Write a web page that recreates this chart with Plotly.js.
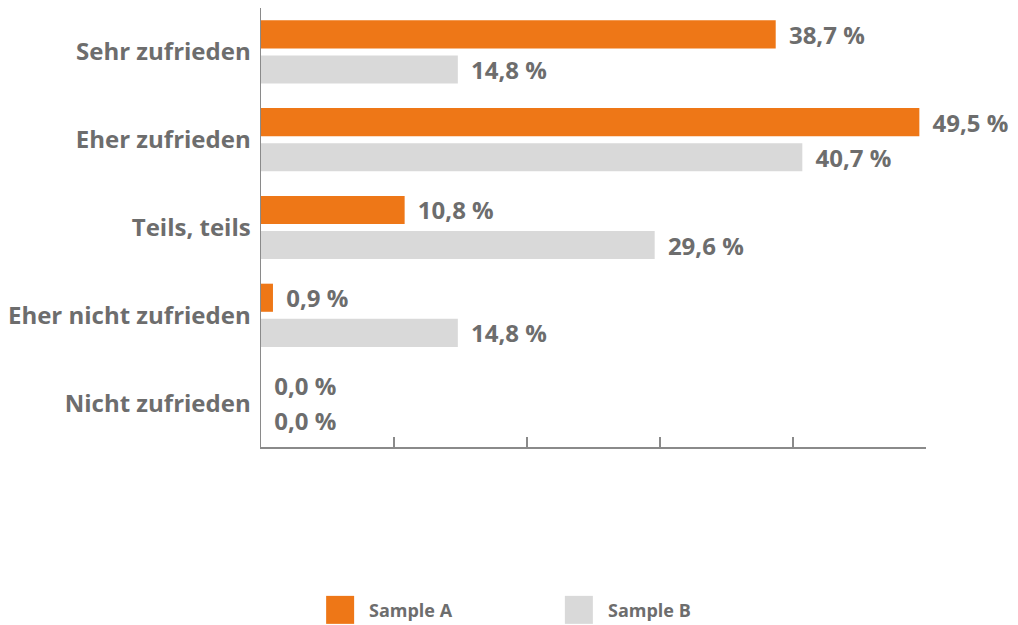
<!DOCTYPE html>
<html>
<head>
<meta charset="utf-8">
<script src="https://cdn.plot.ly/plotly-3.0.1.min.js"></script>
<style>html,body{margin:0;padding:0;background:#fff;}#chart{width:1018px;height:625px;}</style>
</head>
<body>
<div id="chart"></div>
<script>
var categories = ["Sehr zufrieden", "Eher zufrieden", "Teils, teils", "Eher nicht zufrieden", "Nicht zufrieden"];
var seriesNames = ["Sample A", "Sample B"];
var sampleA = [38.7, 49.5, 10.8, 0.9, 0.0];
var sampleB = [14.8, 40.7, 29.6, 14.8, 0.0];
var colors = ["#EE7717", "#D9D9D9"];
var textColor = "#6d6d6d";
var fontFam = "'Open Sans', 'Noto Sans', sans-serif";

function barTrace(vals, name, color) {
  return {
    type: "bar", orientation: "h", name: name,
    y: categories, x: vals,
    marker: {color: color},
    texttemplate: "\u00a0\u2009%{x:.1f} %",
    textposition: "outside",
    constraintext: "none",
    cliponaxis: false,
    textfont: {family: fontFam, size: 24, color: textColor, weight: 700},
    hoverinfo: "skip", showlegend: false
  };
}

var data = [barTrace(sampleA, seriesNames[0], colors[0]), barTrace(sampleB, seriesNames[1], colors[1])];

var legendX = [0.119, 0.478];
var shapes = [], annotations = [];
seriesNames.forEach(function(n, i) {
  shapes.push({type: "rect", xref: "paper", yref: "paper", xsizemode: "pixel", ysizemode: "pixel",
    xanchor: legendX[i], yanchor: -0.371, x0: -14, x1: 14, y0: -14, y1: 14,
    fillcolor: colors[i], line: {width: 0}});
  annotations.push({xref: "paper", yref: "paper", x: legendX[i], y: -0.371, xshift: 27,
    xanchor: "left", yanchor: "middle", showarrow: false, text: n,
    font: {family: fontFam, size: 18, color: textColor, weight: 700}});
});

var layout = {
  width: 1018, height: 625,
  margin: {l: 261, r: 92, t: 8, b: 178},
  paper_bgcolor: "#fff", plot_bgcolor: "#fff",
  separators: ",.",
  barmode: "group", bargap: 0.2, bargroupgap: 0.2,
  xaxis: {range: [0, 50], dtick: 10, tick0: 0, showgrid: false, zeroline: false,
    showline: true, linecolor: "#8a8a8a", linewidth: 1.5,
    ticks: "inside", ticklen: 10, tickcolor: "#8a8a8a", tickwidth: 1.5,
    showticklabels: false, fixedrange: true},
  yaxis: {autorange: "reversed", showgrid: false, zeroline: false,
    showline: true, linecolor: "#8a8a8a", linewidth: 1.5, ticks: "",
    ticklabelstandoff: 4,
    tickfont: {family: fontFam, size: 24, color: textColor, weight: 700}, fixedrange: true},
  shapes: shapes, annotations: annotations,
  showlegend: false
};

Plotly.newPlot("chart", data, layout, {displayModeBar: false, staticPlot: true});
</script>
</body>
</html>
